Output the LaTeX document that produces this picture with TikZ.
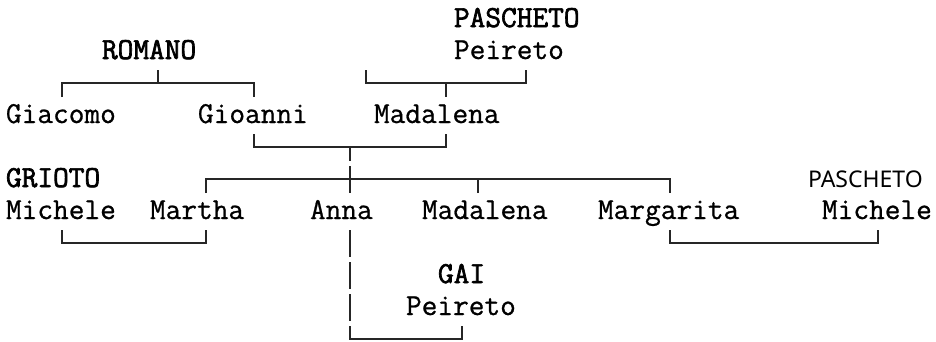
\documentclass[tikz,border=0pt]{standalone}
\usepackage{fontspec}
\newfontfamily\monof[FakeBold=0.8]{Latin Modern Mono}
\newfontfamily\monobf[FakeBold=2.2]{Latin Modern Mono}
\newfontfamily\sansf{Noto Sans}
\usetikzlibrary{calc}
\tikzset{
 nm/.style={anchor=base west, inner sep=0pt, outer sep=0pt, font=\monof\fontsize{30.48}{34}\selectfont},
 sn/.style={nm, font=\monobf\fontsize{30.48}{34}\selectfont},
 ss/.style={nm, font=\sansf\fontsize{23}{27}\selectfont},
 ln/.style={line width=1.4pt, black!85}
}
\begin{document}
\begin{tikzpicture}[x=1pt,y=-1pt]
\useasboundingbox (0,0) rectangle (936,341);
% column c -> x = 6+16c ; row r -> baseline 27+32r
\node[sn] (pasA) at (454,27) {PASCHETO};
\node[sn] (romano) at (102,59) {ROMANO};
\node[nm] (peiA) at (454,59) {Peireto};
\node[nm] (giacomo) at (6,123) {Giacomo};
\node[nm] (gioanni) at (198,123) {Gioanni};
\node[nm] (madA) at (374,123) {Madalena};
\node[sn] (grioto) at (6,187) {GRIOTO};
\node[nm] (micL) at (6,219) {Michele};
\node[nm] (martha) at (150,219) {Martha};
\node[nm] (anna) at (310,219) {Anna};
\node[nm] (madB) at (422,219) {Madalena};
\node[nm] (marg) at (598,219) {Margarita};
\node[ss] (pasB) at (808,187) {PASCHETO};
\node[nm] (micR) at (822,219) {Michele};
\node[sn] (gai) at (438,283) {GAI};
\node[nm] (peiB) at (406,315) {Peireto};
% ROMANO
\coordinate (rb) at ($(romano.base west)+(56,24)$);
\draw[ln] ($(romano.base west)+(56,11)$) -- (rb);
\draw[ln] ($(giacomo.base west)+(56,-26)$) |- (rb) -| ($(gioanni.base west)+(56,-26)$);
% PASCHETO Peireto
\coordinate (pb) at ($(madA.base west)+(72,-40)$);
\draw[ln] ($(peiA.base west)+(-88,11)$) |- (pb) -| ($(peiA.base west)+(72,11)$);
\draw[ln] (pb) -- ($(madA.base west)+(72,-26)$);
% marriage Gioanni - Madalena
\coordinate (mb) at ($(anna.base west)+(40,-72)$);
\draw[ln] ($(gioanni.base west)+(56,11)$) |- (mb) -| ($(madA.base west)+(72,11)$);
\draw[ln] (mb) -- ($(anna.base west)+(40,-58)$);
\draw[ln] ($(anna.base west)+(40,-53)$) -- ($(anna.base west)+(40,-26)$);
% children
\coordinate (cb) at ($(anna.base west)+(40,-40)$);
\draw[ln] ($(martha.base west)+(56,-26)$) |- (cb) -| ($(marg.base west)+(72,-26)$);
\draw[ln] ($(madB.base west)+(56,-26)$) -- ++(0,-14);
% Michele - Martha
\draw[ln] ($(micL.base west)+(56,11)$) -- ++(0,13) -| ($(martha.base west)+(56,11)$);
% Margarita - Michele
\draw[ln] ($(marg.base west)+(72,11)$) -- ++(0,13) -| ($(micR.base west)+(56,11)$);
% Anna - Peireto
\draw[ln] ($(anna.base west)+(40,11)$) -- ++(0,27);
\draw[ln] ($(anna.base west)+(40,43)$) -- ++(0,27);
\draw[ln] ($(anna.base west)+(40,75)$) -- ++(0,27);
\draw[ln] ($(anna.base west)+(40,107)$) -- ++(0,13) -| ($(peiB.base west)+(56,11)$);
\end{tikzpicture}
\end{document}
